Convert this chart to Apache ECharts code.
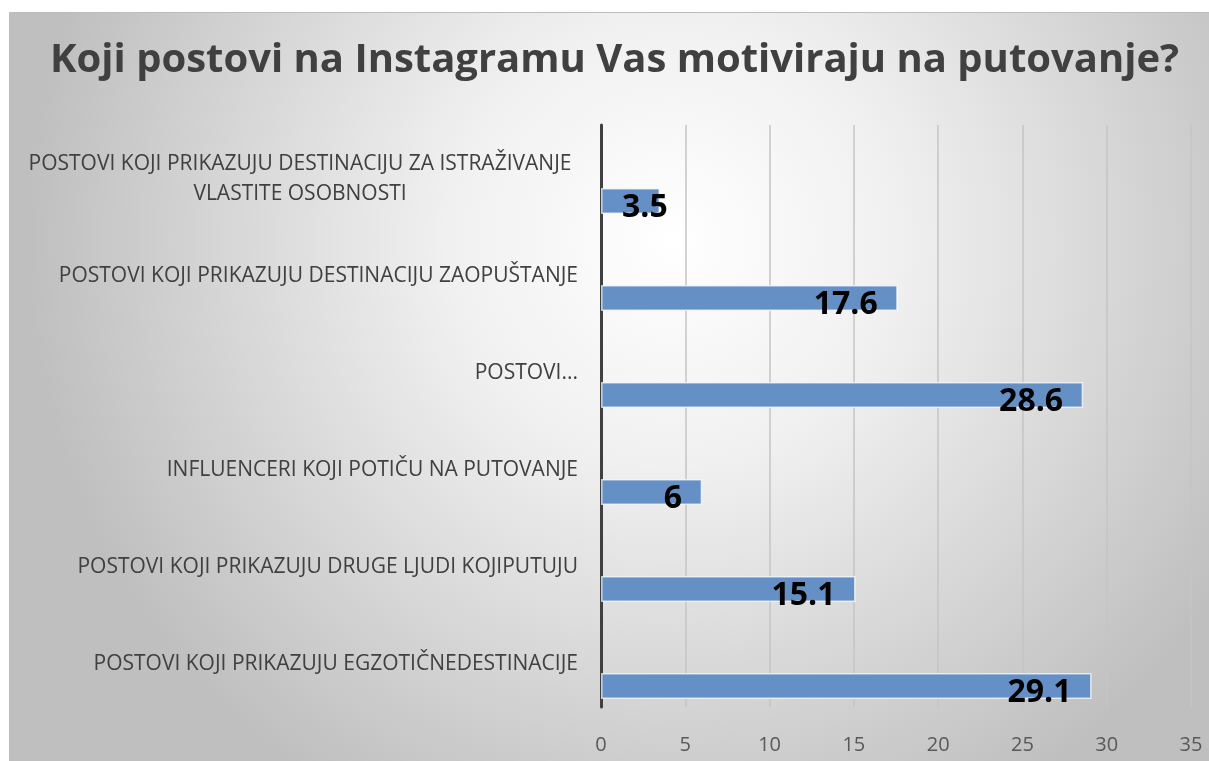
<!DOCTYPE html>
<html>
<head>
<meta charset="utf-8">
<script src="https://cdn.jsdelivr.net/npm/echarts@6/dist/echarts.min.js"></script>
<style>
  html, body { margin: 0; padding: 0; background: #fff; }
  #main { width: 1209px; height: 761px; }
</style>
</head>
<body>
<div id="main"></div>
<script>
// categories bottom -> top, as ECharts draws a y category axis
var categories = [
  "POSTOVI KOJI PRIKAZUJU EGZOTIČNEDESTINACIJE",
  "POSTOVI KOJI PRIKAZUJU DRUGE LJUDI KOJIPUTUJU",
  "INFLUENCERI KOJI POTIČU NA PUTOVANJE",
  "POSTOVI...",
  "POSTOVI KOJI PRIKAZUJU DESTINACIJU ZAOPUŠTANJE",
  "POSTOVI KOJI PRIKAZUJU DESTINACIJU ZA ISTRAŽIVANJE\nVLASTITE OSOBNOSTI"
];
var values = [29.1, 15.1, 6, 28.6, 17.6, 3.5];
var valueTicks = [0, 35, 5]; // min, max, step

var chart = echarts.init(document.getElementById("main"));

// short bars get their label pushed right of the axis
var barData = values.map(function (v) {
  if (v < 5) {
    return { value: v, label: { position: "insideLeft", distance: 21 } };
  }
  return v;
});

chart.setOption({
  animation: false,
  textStyle: { fontFamily: "Open Sans" },
  graphic: [
    {
      type: "rect",
      z: -10,
      shape: { x: 9.5, y: 12.5, width: 1205, height: 760 },
      style: {
        fill: {
          type: "radial",
          x: 0.55,
          y: 0.3,
          r: 0.85,
          colorStops: [
            { offset: 0, color: "#ffffff" },
            { offset: 0.35, color: "#f0f0f0" },
            { offset: 1, color: "#bfbfbf" }
          ]
        },
        stroke: "#bcbcbc",
        lineWidth: 1
      }
    }
  ],
  title: {
    text: "Koji postovi na Instagramu Vas motiviraju na putovanje?",
    left: 45,
    top: 31,
    textStyle: {
      fontFamily: "Open Sans",
      fontSize: 40,
      fontWeight: "bold",
      color: "#404040",
      lineHeight: 50
    }
  },
  grid: {
    left: 601,
    right: 18,
    top: 125,
    bottom: 54
  },
  xAxis: {
    type: "value",
    min: valueTicks[0],
    max: valueTicks[1],
    interval: valueTicks[2],
    axisLine: { show: false },
    axisTick: { show: false },
    axisLabel: {
      color: "#595959",
      fontSize: 20,
      margin: 28
    },
    splitLine: {
      lineStyle: { color: "#c4c4c4", width: 1.5 }
    }
  },
  yAxis: {
    type: "category",
    data: categories,
    axisLine: {
      show: true,
      lineStyle: { color: "#404040", width: 3 }
    },
    axisTick: { show: false },
    axisLabel: {
      color: "#404040",
      fontSize: 21,
      margin: 23,
      padding: [12, 0, 0, 0],
      lineHeight: 30,
      formatter: function (v) {
        if (v.indexOf("\n") < 0) return v;
        return v.split("\n").map(function (s) {
          return "{c|" + s + "}";
        }).join("\n");
      },
      rich: {
        c: {
          width: 556,
          align: "center",
          color: "#404040",
          fontSize: 21,
          lineHeight: 30
        }
      }
    }
  },
  series: [
    {
      // empty spacer series so the real bar sits low in its band
      type: "bar",
      barWidth: 26,
      barGap: "111.5%",
      data: values.map(function () { return null; })
    },
    {
      name: "Postovi",
      type: "bar",
      barWidth: 26,
      barGap: "111.5%",
      itemStyle: {
        color: "#6590c5",
        borderColor: "rgba(255,255,255,0.7)",
        borderWidth: 1.5
      },
      label: {
        show: true,
        position: "insideRight",
        distance: 20,
        offset: [0, 7],
        color: "#000",
        fontFamily: "Open Sans",
        fontWeight: "bold",
        fontSize: 32
      },
      data: barData
    }
  ]
});
</script>
</body>
</html>
